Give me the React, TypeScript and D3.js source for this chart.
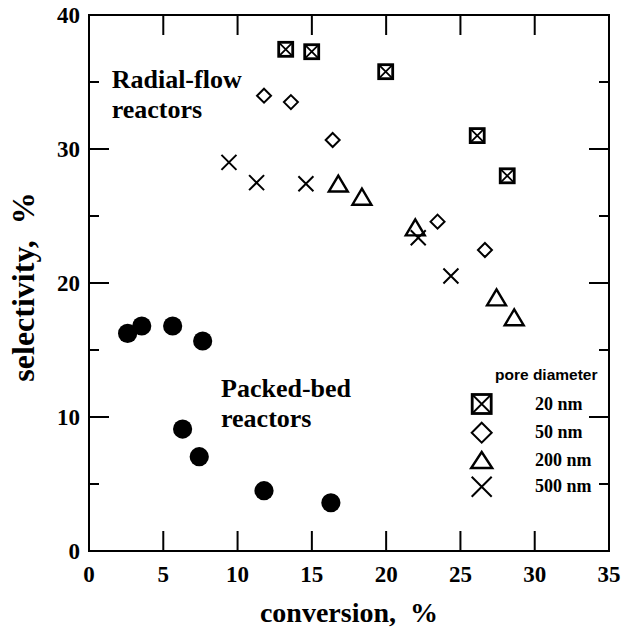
import React from "react";
import * as d3 from "d3";

const xTicks = [0, 5, 10, 15, 20, 25, 30, 35];
const yTicks = [0, 10, 20, 30, 40];
const yMinorTicks = [5, 15, 25, 35];

const sq20X = [13.24, 14.99, 19.97, 26.13, 28.15];
const sq20Y = [37.44, 37.26, 35.77, 31.0, 28.0];
const dia50X = [11.78, 13.59, 16.4, 23.46, 26.65];
const dia50Y = [33.98, 33.5, 30.67, 24.58, 22.46];
const tri200X = [16.78, 18.37, 21.96, 27.43, 28.62];
const tri200Y = [27.42, 26.44, 24.15, 18.93, 17.44];
const x500X = [9.42, 11.28, 14.6, 22.16, 24.36];
const x500Y = [29.0, 27.49, 27.41, 23.38, 20.52];
const packedX = [2.6, 3.55, 5.63, 7.65, 6.3, 7.42, 11.78, 16.28];
const packedY = [16.24, 16.79, 16.79, 15.67, 9.1, 7.04, 4.5, 3.6];

const legendLabels = ["20 nm", "50 nm", "200 nm", "500 nm"];
const legendTitle = "pore diameter";

const W = 622, H = 633;
const L = 89, R = 609, T = 15, B = 551;
const SERIF = "'Liberation Serif', 'Times New Roman', serif";
const SANS = "'Liberation Sans', Arial, sans-serif";

function SquareX({ cx, cy, s }: { cx: number; cy: number; s: number }) {
  const h = s / 2;
  return (
    <g>
      <rect x={cx - h} y={cy - h} width={s} height={s} fill="white" stroke="black" strokeWidth={2.8} />
      <path d={`M${cx - h},${cy - h}L${cx + h},${cy + h}M${cx + h},${cy - h}L${cx - h},${cy + h}`} stroke="black" strokeWidth={1.8} />
    </g>
  );
}
function Diamond({ cx, cy, s }: { cx: number; cy: number; s: number }) {
  const h = s / 2;
  return <path d={`M${cx},${cy - h}L${cx + h},${cy}L${cx},${cy + h}L${cx - h},${cy}Z`} fill="white" stroke="black" strokeWidth={2} />;
}
function Tri({ cx, cy, w, h }: { cx: number; cy: number; w: number; h: number }) {
  return <path d={`M${cx},${cy - h / 2}L${cx + w / 2},${cy + h / 2}L${cx - w / 2},${cy + h / 2}Z`} fill="none" stroke="black" strokeWidth={2.4} strokeLinejoin="miter" />;
}
function Cross({ cx, cy, s }: { cx: number; cy: number; s: number }) {
  const h = s / 2;
  return <path d={`M${cx - h},${cy - h}L${cx + h},${cy + h}M${cx + h},${cy - h}L${cx - h},${cy + h}`} stroke="black" strokeWidth={2} fill="none" />;
}

export default function App() {
  const x = d3.scaleLinear().domain([0, 35]).range([L, R]);
  const y = d3.scaleLinear().domain([0, 40]).range([B, T]);
  const major = 20, minor = 10;
  const legX = 481.7;
  const legY = [404, 432.7, 460, 486.7];

  return (
    <svg width={W} height={H} style={{ position: "absolute", left: 0, top: 0, background: "white" }}>
      <rect x={L} y={T} width={R - L} height={B - T} fill="none" stroke="black" strokeWidth={2} />
      {xTicks.map((t) => (
        <g key={"xt" + t}>
          <line x1={x(t)} x2={x(t)} y1={B} y2={B - major} stroke="black" strokeWidth={2} />
          <line x1={x(t)} x2={x(t)} y1={T} y2={T + major} stroke="black" strokeWidth={2} />
          <text x={x(t)} y={582} textAnchor="middle" fontFamily={SERIF} fontWeight="bold" fontSize={23}>{t}</text>
        </g>
      ))}
      {yTicks.map((t) => (
        <g key={"yt" + t}>
          <line x1={L} x2={L + major} y1={y(t)} y2={y(t)} stroke="black" strokeWidth={2} />
          <line x1={R} x2={R - major} y1={y(t)} y2={y(t)} stroke="black" strokeWidth={2} />
          <text x={80} y={y(t) + 8} textAnchor="end" fontFamily={SERIF} fontWeight="bold" fontSize={23}>{t}</text>
        </g>
      ))}
      {yMinorTicks.map((t) => (
        <g key={"ym" + t}>
          <line x1={L} x2={L + minor} y1={y(t)} y2={y(t)} stroke="black" strokeWidth={2} />
          <line x1={R} x2={R - minor} y1={y(t)} y2={y(t)} stroke="black" strokeWidth={2} />
        </g>
      ))}
      <text x={(L + R) / 2} y={622} textAnchor="middle" fontFamily={SERIF} fontWeight="bold" fontSize={28} style={{ whiteSpace: "pre" }}>{"conversion,  %"}</text>
      <text transform={`translate(34,287) rotate(-90)`} textAnchor="middle" fontFamily={SERIF} fontWeight="bold" fontSize={32} style={{ whiteSpace: "pre" }}>{"selectivity,  %"}</text>

      <text fontFamily={SERIF} fontWeight="bold" fontSize={26}>
        <tspan x={111.7} y={88.3}>Radial-flow</tspan>
        <tspan x={111.7} y={118}>reactors</tspan>
      </text>
      <text fontFamily={SERIF} fontWeight="bold" fontSize={26}>
        <tspan x={221} y={396.7}>Packed-bed</tspan>
        <tspan x={221} y={426.7}>reactors</tspan>
      </text>

      {packedX.map((v, i) => <circle key={"p" + i} cx={x(v)} cy={y(packedY[i])} r={9.6} fill="black" />)}
      {x500X.map((v, i) => <Cross key={"c" + i} cx={x(v)} cy={y(x500Y[i])} s={15} />)}
      {tri200X.map((v, i) => <Tri key={"t" + i} cx={x(v)} cy={y(tri200Y[i])} w={19} h={16} />)}
      {dia50X.map((v, i) => <Diamond key={"d" + i} cx={x(v)} cy={y(dia50Y[i])} s={14} />)}
      {sq20X.map((v, i) => <SquareX key={"s" + i} cx={x(v)} cy={y(sq20Y[i])} s={14} />)}

      <text x={495} y={380} fontFamily={SANS} fontWeight="bold" fontSize={15.5}>{legendTitle}</text>
      <SquareX cx={legX} cy={legY[0]} s={19} />
      <Diamond cx={legX} cy={legY[1]} s={20} />
      <Tri cx={legX} cy={legY[2]} w={21} h={16} />
      <Cross cx={legX} cy={legY[3]} s={20} />
      {legendLabels.map((l, i) => (
        <text key={l} x={535} y={legY[i] + 5.5} fontFamily={SERIF} fontWeight="bold" fontSize={18}>{l}</text>
      ))}
    </svg>
  );
}
